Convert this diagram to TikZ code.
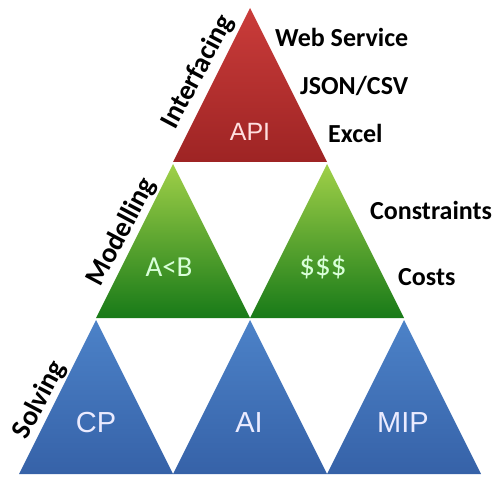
\documentclass[tikz,border=0pt]{standalone}
\usepackage{fontspec}
\setmainfont{Carlito}
\newfontfamily\arialfont{Liberation Sans}
\usepackage{tikz}

\definecolor{redtop}{RGB}{202,60,58}
\definecolor{redbot}{RGB}{158,36,36}
\definecolor{greentop}{RGB}{160,208,72}
\definecolor{greenbot}{RGB}{24,122,24}
\definecolor{bluetop}{RGB}{76,130,200}
\definecolor{bluebot}{RGB}{54,98,168}

\begin{document}
\begin{tikzpicture}[x=1pt, y=-1pt]
        \tikzstyle{interface}=[top color=redtop, bottom color=redbot];
        \tikzstyle{model}=[top color=greentop, bottom color=greenbot];
        \tikzstyle{solve}=[top color=bluetop, bottom color=bluebot];
        \tikzstyle{layer}=[inner sep=0pt, font=\bfseries\fontsize{28}{30}\selectfont];
        \tikzstyle{item}=[anchor=base west, inner sep=0pt, font=\bfseries\fontsize{26}{30}\selectfont];
        \tikzstyle{tool}=[inner sep=0pt, text=white!92!blue, font=\arialfont\fontsize{29}{32}\selectfont];
        \useasboundingbox (0,0) rectangle (500,478);

        % the six triangles
        \foreach \x/\y/\kind in {250/8/interface, 173/164/model, 327/164/model,
                                 96/320/solve, 250/320/solve, 404/320/solve}
          \shade[\kind] (\x,\y) -- ++(77,154) -- ++(-154,0) -- cycle;

        \node[tool, text=white!88!red, font=\arialfont\fontsize{25}{28}\selectfont] (api) at (250,132) {API};
        \node[tool, text=white!85!green, font=\fontsize{29}{32}\selectfont] (order) at (169,267) {A<B};
        \node[tool, text=white!85!green, font=\fontsize{31}{34}\selectfont] (money) at (323,267) {\$\$\$};
        \node[tool] (cp) at (96,423) {CP};
        \node[tool] (ai) at (249,423) {AI};
        \node[tool] (mip) at (403,423) {MIP};

        \node[layer, rotate=62] (interfacing) at (198,72) {Interfacing};
        \node[layer, rotate=62] (modelling) at (122,232) {Modelling};
        \node[layer, rotate=62] (solving) at (40,400) {Solving};

        \node[item] (web) at (275,47) {Web Service};
        \node[item] (json) at (300,95) {JSON/CSV};
        \node[item] (excel) at (328,143) {Excel};
        \node[item] (constraints) at (370,220) {Constraints};
        \node[item] (costs) at (398,285) {Costs};
      \end{tikzpicture}
\end{document}
